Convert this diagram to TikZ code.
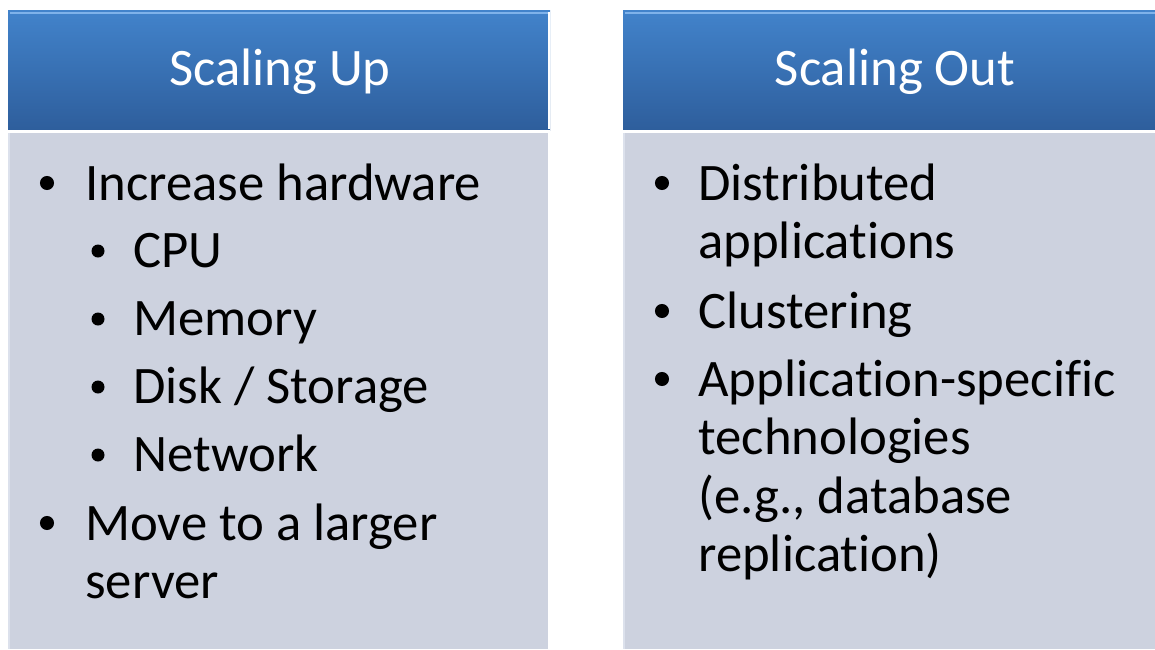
\documentclass[tikz,border=0pt]{standalone}
\usepackage{fontspec}
\setmainfont[Ligatures=NoCommon]{Carlito}
\usetikzlibrary{calc}

\definecolor{hdrtop}{HTML}{4283CB}
\definecolor{hdrbot}{HTML}{2E5E9C}
\definecolor{hdrlight}{HTML}{7FB2EA}
\definecolor{bodyfill}{HTML}{CDD2DF}
\definecolor{bodyedge}{HTML}{DCE1EC}

\tikzset{
    title/.style={text=white,font=\fontsize{30}{36}\selectfont},
    item/.style={anchor=base west,inner sep=0pt,font=\fontsize{30}{36}\selectfont},
    dot/.style={fill=black}
}

\begin{document}
\begin{tikzpicture}[x=0.02cm,y=-0.02cm]
    \useasboundingbox (0,0) rectangle (1155,649);
    % body panels
    \fill[bodyfill] (8,133) rectangle (548,649);
    \fill[bodyfill] (623,133) rectangle (1155,649);
    \draw[bodyedge,line width=1.2pt] (9,133) -- (9,649);
    \draw[bodyedge,line width=1.2pt] (624,133) -- (624,649);
    % headers
    \shade[top color=hdrtop,bottom color=hdrbot] (8,10) rectangle (550,130);
    \shade[top color=hdrtop,bottom color=hdrbot] (623,10) rectangle (1155,130);
    \draw[hdrlight,line width=1.5pt] (10,13) -- (548,13);
    \draw[hdrlight,line width=1.5pt] (625,13) -- (1155,13);
    \draw[white,line width=1pt] (549,12) -- (549,129);
    \draw[white,line width=1.2pt] (8,131.5) -- (550,131.5);
    \draw[white,line width=1.2pt] (623,131.5) -- (1155,131.5);

    \node[title] (upT) at (280,72) {Scaling Up};
    \node[title] (outT) at (895,72) {Scaling Out};

    % scaling up items
    \coordinate (L1) at (85,200);
    \coordinate (L2) at (133,267);
    \node[item] (inc) at (L1) {Increase hardware};
    \node[item] (cpu) at (L2) {CPU};
    \node[item] (mem) at ($(L2)+(0,68)$) {Memory};
    \node[item] (disk) at ($(L2)+(0,136)$) {Disk / Storage};
    \node[item] (net) at ($(L2)+(0,204)$) {Network};
    \node[item] (move) at ($(L1)+(0,340)$) {Move to a larger};
    \node[item] (srv) at ($(L1)+(0,398)$) {server};
    \fill[dot] ($(inc.base west)+(-38,-17)$) circle (4pt);
    \fill[dot] ($(cpu.base west)+(-35,-16)$) circle (3.7pt);
    \fill[dot] ($(mem.base west)+(-35,-16)$) circle (3.7pt);
    \fill[dot] ($(disk.base west)+(-35,-16)$) circle (3.7pt);
    \fill[dot] ($(net.base west)+(-35,-16)$) circle (3.7pt);
    \fill[dot] ($(move.base west)+(-38,-17)$) circle (4pt);

    % scaling out items
    \coordinate (R1) at (698,200);
    \node[item] (dist) at (R1) {Distributed};
    \node[item] (apps) at ($(R1)+(0,58)$) {applications};
    \node[item] (clus) at ($(R1)+(0,128)$) {Clustering};
    \node[item] (aspec) at ($(R1)+(0,196)$) {Application-specific};
    \node[item] (tech) at ($(R1)+(0,254)$) {technologies};
    \node[item] (eg) at ($(R1)+(0,313)$) {(e.g., database};
    \node[item] (repl) at ($(R1)+(0,371)$) {replication)};
    \fill[dot] ($(dist.base west)+(-36,-17)$) circle (4pt);
    \fill[dot] ($(clus.base west)+(-36,-17)$) circle (4pt);
    \fill[dot] ($(aspec.base west)+(-36,-17)$) circle (4pt);
\end{tikzpicture}
\end{document}
